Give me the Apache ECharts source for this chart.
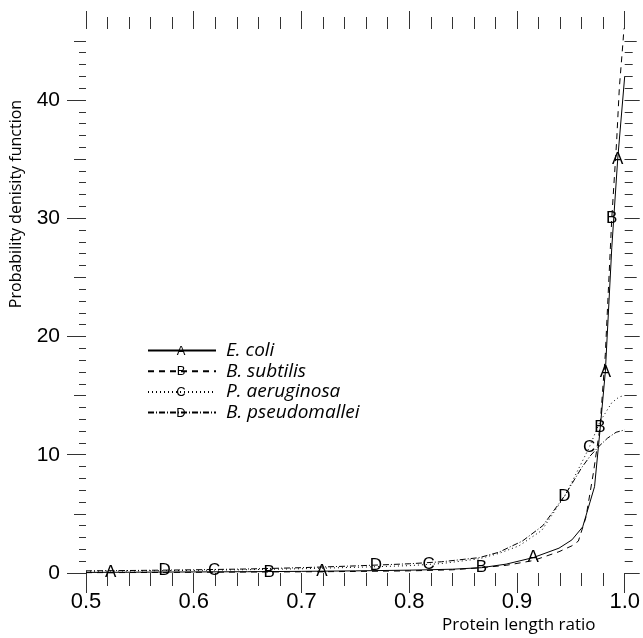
<!DOCTYPE html>
<html>
<head>
<meta charset="utf-8">
<title>Protein length ratio</title>
<script src="https://cdn.jsdelivr.net/npm/echarts@6/dist/echarts.min.js"></script>
<style>
  html, body { margin: 0; padding: 0; background: #fff; }
  #chartBox { width: 643px; height: 638px; }
</style>
</head>
<body>
<div id="chartBox"></div>
<script>
// curves as [ratio, density]
var ecoli = [[0.5,0.05],[0.55,0.07],[0.6,0.09],[0.65,0.11],[0.7,0.14],[0.75,0.18],[0.8,0.24],[0.84,0.32],[0.867,0.45],[0.89,0.75],[0.915,1.3],[0.939,2.1],[0.951,2.8],[0.961,3.9],[0.972,7.3],[0.977,12.0],[0.982,17.0],[0.988,27.5],[0.9935,35.0],[1.0,42.0]];
var subtilis = [[0.5,0.02],[0.55,0.04],[0.6,0.06],[0.65,0.08],[0.7,0.1],[0.75,0.13],[0.8,0.18],[0.84,0.27],[0.867,0.45],[0.89,0.65],[0.915,1.05],[0.939,1.8],[0.951,2.3],[0.957,2.7],[0.964,4.7],[0.971,8.5],[0.977,12.3],[0.982,18.5],[0.988,30.0],[0.9925,36.5],[0.995,41.0],[0.9985,45.0],[1.0,47.0]];
var aeruginosa = [[0.5,0.15],[0.55,0.18],[0.6,0.22],[0.65,0.28],[0.7,0.36],[0.75,0.48],[0.8,0.62],[0.83,0.8],[0.865,1.2],[0.883,1.65],[0.902,2.3],[0.923,3.6],[0.945,6.6],[0.967,10.6],[0.977,12.8],[0.988,14.4],[0.995,14.9],[1.0,15.0]];
var pseudomallei = [[0.5,0.18],[0.55,0.22],[0.6,0.27],[0.65,0.34],[0.7,0.45],[0.75,0.6],[0.8,0.78],[0.83,0.95],[0.865,1.3],[0.883,1.75],[0.905,2.7],[0.924,4.0],[0.944,6.5],[0.96,8.9],[0.968,9.9],[0.976,10.7],[0.984,11.4],[0.992,11.9],[1.0,12.1]];

// letter marks sitting on the curves
var marksA = [[0.523,0.05],[0.719,0.14],[0.915,1.3],[0.982,17.0],[0.9935,35.0]];
var marksB = [[0.670,0.09],[0.867,0.45],[0.977,12.3],[0.988,30.0]];
var marksC = [[0.619,0.24],[0.818,0.72],[0.967,10.6]];
var marksD = [[0.573,0.24],[0.769,0.68],[0.944,6.5]];

var names = ['E. coli', 'B. subtilis', 'P. aeruginosa', 'B. pseudomallei'];
var letters = ['A', 'B', 'C', 'D'];

// axis ticks
var yLabelTicks = [0, 10, 20, 30, 40];
var yMidTicks = [5, 15, 25, 35, 45];
var yMinorTicks = [0,1,2,3,4,5,6,7,8,9,10,11,12,13,14,15,16,17,18,19,20,21,22,23,24,25,26,27,28,29,30,31,32,33,34,35,36,37,38,39,40,41,42,43,44,45];

var curves = [ecoli, subtilis, aeruginosa, pseudomallei];
var marks = [marksA, marksB, marksC, marksD];
var dashes = ['solid', [6, 5], [1, 3], [6, 2, 1, 2]];

var chart = echarts.init(document.getElementById('chartBox'));

var tickColor = '#333';
function yAx(pos, ticks, len, labels) {
    return {
        type: 'value', position: pos, min: 0, max: 46,
        axisLine: { show: false, onZero: false },
        splitLine: { show: false },
        axisTick: { show: true, length: len, customValues: ticks, lineStyle: { color: tickColor } },
        axisLabel: labels ? {
            show: true, customValues: ticks, margin: 26,
            fontFamily: 'Liberation Sans', fontSize: 21, color: '#000'
        } : { show: false }
    };
}
function xAx(pos, len, minorLen, labels) {
    return {
        type: 'value', position: pos, min: 0.5, max: 1.0, interval: 0.1,
        axisLine: { show: false, onZero: false },
        splitLine: { show: false },
        axisTick: { show: true, length: len, lineStyle: { color: tickColor } },
        minorTick: { show: true, splitNumber: 5, length: minorLen, lineStyle: { color: tickColor } },
        minorSplitLine: { show: false },
        axisLabel: labels ? {
            show: true, margin: 18, formatter: function (v) { return v.toFixed(1); },
            fontFamily: 'Liberation Sans', fontSize: 22, color: '#000'
        } : { show: false }
    };
}

var series = [];
var legends = [];
var graphics = [];
for (var i = 0; i < curves.length; i++) {
    series.push({
        name: names[i], type: 'line', data: curves[i],
        symbol: 'none', smooth: false, clip: true,
        lineStyle: { color: '#000', width: 1, type: dashes[i] },
        itemStyle: { color: '#000' },
        z: 2
    });
    series.push({
        name: letters[i], type: 'scatter', data: marks[i],
        symbol: 'circle', symbolSize: 1,
        itemStyle: { color: 'rgba(0,0,0,0)', opacity: 1 },
        label: {
            show: true, position: 'inside', formatter: letters[i], opacity: 1,
            textBorderWidth: 0, fontFamily: 'Liberation Sans', fontSize: 17, color: '#000'
        },
        silent: true, z: 3
    });
    var rowY = 351 + i * 20.7;
    legends.push({
        data: [names[i]], left: 147, top: rowY - 10, itemWidth: 68, itemHeight: 20,
        padding: 0, itemGap: 0, selectedMode: false,
        itemStyle: { opacity: 0 },
        textStyle: { fontFamily: 'Open Sans', fontStyle: 'italic', fontSize: 19, color: '#000', padding: [0, 0, 0, 5] }
    });
    graphics.push({
        type: 'text', x: 181, y: rowY, z: 100,
        style: { text: letters[i], font: '13px "Liberation Sans"', fill: '#000', align: 'center', verticalAlign: 'middle' }
    });
}
graphics.push({
    type: 'text', x: 16, y: 204, rotation: Math.PI / 2,
    style: { text: 'Probability denisity function', font: '16px "Open Sans"', fill: '#000', align: 'center', verticalAlign: 'middle' }
});
graphics.push({
    type: 'text', x: 442, y: 625,
    style: { text: 'Protein length ratio', font: '17px "Open Sans"', fill: '#000', align: 'left', verticalAlign: 'middle' }
});

var option = {
    animation: false,
    backgroundColor: '#fff',
    grid: { left: 86, right: 15.5, top: 29, bottom: 65 },
    legend: legends,
    xAxis: [xAx('bottom', 20, 13, true), xAx('top', 18, 12, false)],
    yAxis: [
        yAx('left', yLabelTicks, 19, true),
        yAx('left', yMidTicks, 12, false),
        yAx('left', yMinorTicks, 7, false),
        yAx('right', yLabelTicks, 15, false),
        yAx('right', yMidTicks, 12, false),
        yAx('right', yMinorTicks, 8, false)
    ],
    series: series,
    graphic: graphics
};
chart.setOption(option);
</script>
</body>
</html>
